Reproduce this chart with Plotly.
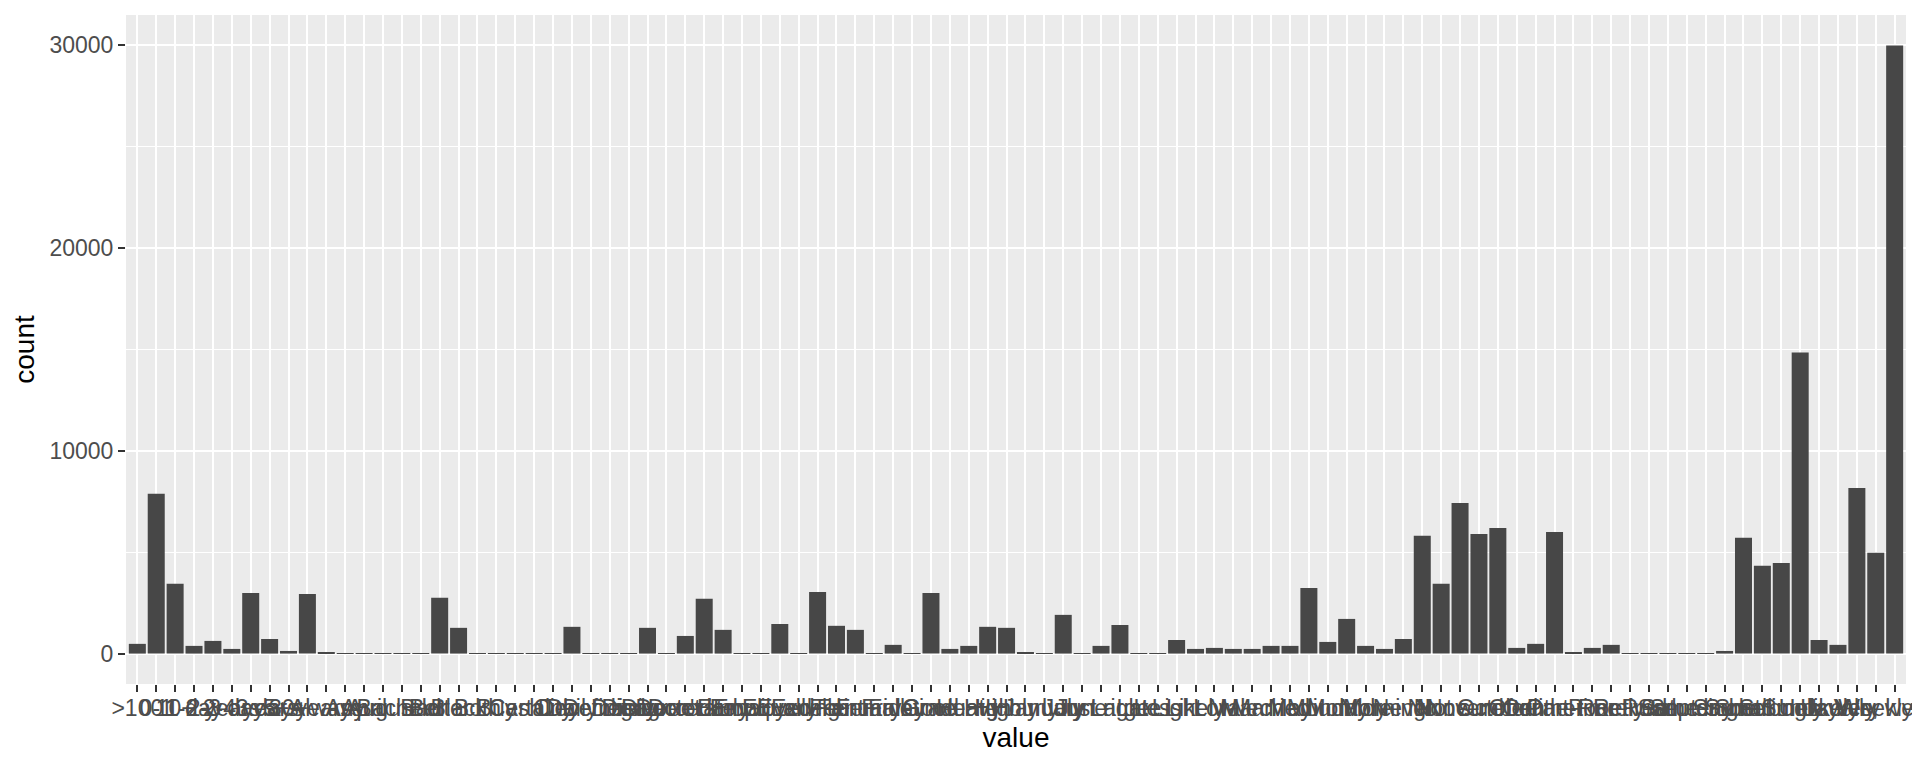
import plotly.graph_objects as go

categories = [
    ">100", "0-1", "10+", "1 day", "1-2 years", "2-3 days", "2-4 years", "3 days", "30+", "5+ years",
    "Always", "Any", "April", "August", "Bachelor", "Bad", "Better", "Black", "Both", "Buy",
    "Cash", "Certainly", "City", "Daily", "December", "Definitely", "Degree", "Disagree", "Divorced", "Doctorate",
    "Don't know", "Early", "Email", "Employed", "Equally", "Evening", "Excellent", "Fair", "February", "Female",
    "Friday", "Full-time", "Good", "Graduate", "Heavy", "High", "Highly", "Hourly", "January", "July",
    "June", "Just right", "Large", "Late", "Less", "Light", "Likely", "Low", "Male", "March",
    "Married", "May", "Medium", "Monday", "Monthly", "More", "Morning", "Never", "No", "None",
    "Not sure", "November", "October", "Often", "Online", "Other", "Part-time", "Poor", "Rarely", "Retired",
    "Rural", "Same", "Saturday", "September", "Single", "Small", "Sometimes", "Strongly", "Sunday", "Unlikely",
    "Usually", "Very", "Weekly", "Yes, weekly",
]

counts = [
    480, 7880, 3440, 380, 625, 230, 2990, 720, 130, 2940,
    30, 5, 3, 20, 20, 20, 2750, 1270, 20, 3,
    3, 20, 3, 1320, 20, 3, 3, 1270, 20, 870,
    2700, 1170, 20, 3, 1460, 20, 3040, 1370, 1170, 20,
    430, 20, 2990, 230, 380, 1320, 1270, 80, 20, 1910,
    20, 380, 1410, 20, 20, 670, 230, 280, 230, 230,
    380, 380, 3240, 575, 1710, 380, 230, 720, 5810, 3440,
    7430, 5900, 6200, 280, 480, 6000, 80, 280, 430, 3,
    3, 20, 3, 20, 130, 5710, 4330, 4470, 14850, 670,
    430, 8170, 4970, 30000,
]

y_ticks = [0, 10000, 20000, 30000]
y_ticktext = ["0", "10000", "20000", "30000"]

assert len(categories) == len(counts) == 94

FONT = "Liberation Sans, Arial, Helvetica, sans-serif"

fig = go.Figure(
    go.Bar(
        x=categories,
        y=counts,
        marker=dict(color="#474747", line=dict(width=0)),
        hoverinfo="x+y",
    )
)

fig.update_layout(
    width=1912,
    height=760,
    margin=dict(l=118, r=14, t=7, b=84),
    paper_bgcolor="white",
    plot_bgcolor="#EBEBEB",
    bargap=0.1,
    showlegend=False,
    font=dict(family=FONT, color="#4D4D4D", size=23),
)

fig.update_xaxes(
    type="category",
    categoryorder="array",
    categoryarray=categories,
    range=[-0.6, len(categories) - 0.4],
    tickmode="array",
    tickvals=categories,
    ticktext=categories,
    tickangle=0,
    ticks="outside",
    ticklen=7,
    tickwidth=2,
    tickcolor="#333333",
    ticklabelstandoff=-4,
    tickfont=dict(family=FONT, size=23, color="#4D4D4D"),
    showgrid=True,
    gridcolor="white",
    gridwidth=2,
    showline=False,
    zeroline=False,
    automargin=False,
    title=dict(text="value", font=dict(family=FONT, size=28, color="black"), standoff=7),
)

fig.update_yaxes(
    range=[-1500, 31500],
    tickmode="array",
    tickvals=y_ticks,
    ticktext=y_ticktext,
    ticks="outside",
    ticklen=7,
    tickwidth=2,
    tickcolor="#333333",
    tickfont=dict(family=FONT, size=23, color="#4D4D4D"),
    showgrid=True,
    gridcolor="white",
    gridwidth=2,
    minor=dict(tickmode="array", tickvals=[5000, 15000, 25000], showgrid=True, gridcolor="white", gridwidth=1, ticks=""),
    showline=False,
    zeroline=False,
    automargin=False,
    title=dict(text="count", font=dict(family=FONT, size=28, color="black"), standoff=6),
)

fig.write_html("out.html")
